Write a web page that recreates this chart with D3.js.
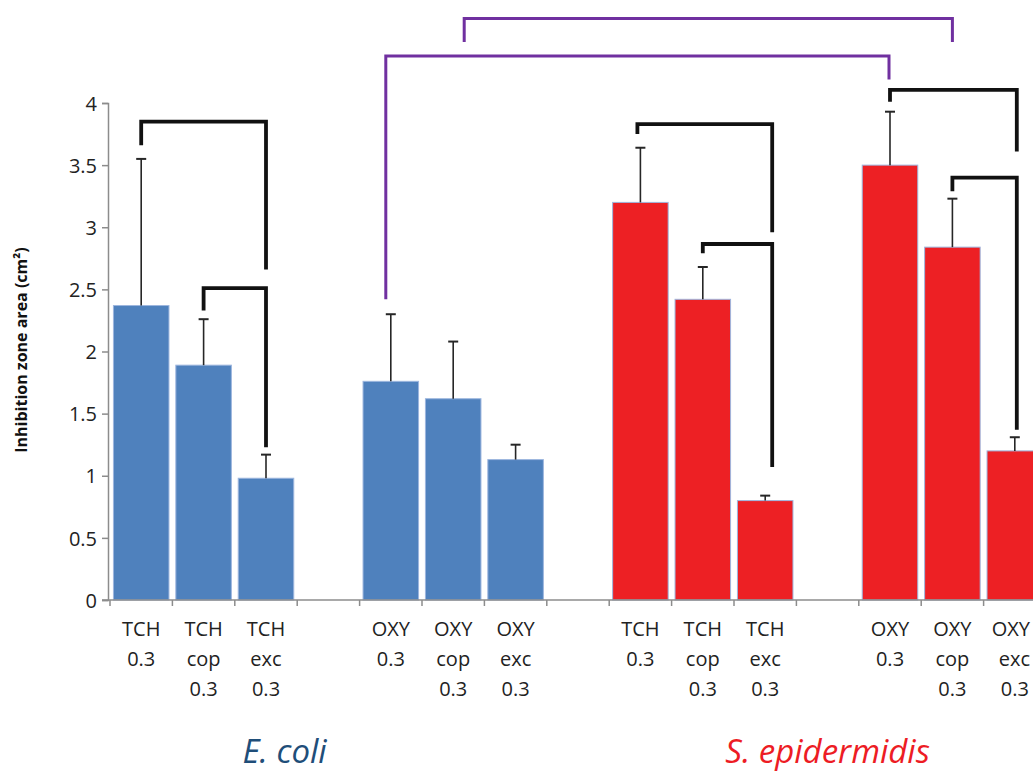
<!DOCTYPE html>
<html>
<head>
<meta charset="utf-8">
<script src="https://cdn.jsdelivr.net/npm/d3@7/dist/d3.min.js"></script>
<style>
  body { margin: 0; background: #fff; }
  svg { display: block; font-family: "Open Sans", sans-serif; }
</style>
</head>
<body>
<div id="chart"></div>
<script>
// bar labels (lines split with |), one per bar
const labels = ["TCH|0.3", "TCH|cop|0.3", "TCH|exc|0.3", "OXY|0.3", "OXY|cop|0.3", "OXY|exc|0.3",
                "TCH|0.3", "TCH|cop|0.3", "TCH|exc|0.3", "OXY|0.3", "OXY|cop|0.3", "OXY|exc|0.3"];
const species = ["E. coli", "E. coli", "E. coli", "E. coli", "E. coli", "E. coli",
                 "S. epidermidis", "S. epidermidis", "S. epidermidis", "S. epidermidis", "S. epidermidis", "S. epidermidis"];
const means = [2.37, 1.89, 0.98, 1.76, 1.62, 1.13, 3.20, 2.42, 0.80, 3.50, 2.84, 1.20];
const errors = [1.18, 0.37, 0.19, 0.54, 0.46, 0.12, 0.44, 0.26, 0.04, 0.43, 0.39, 0.11];
const yTicks = [0, 0.5, 1, 1.5, 2, 2.5, 3, 3.5, 4];

// significance brackets: bar index from/to, bracket top, end of left leg, end of right leg
const bracketFrom = [0, 1, 6, 7, 9, 10, 3, 4];
const bracketTo = [2, 2, 8, 8, 11, 11, 9, 10];
const bracketTop = [3.85, 2.51, 3.83, 2.865, 4.105, 3.40, 4.378, 4.68];
const bracketLeftEnd = [3.66, 2.33, 3.75, 2.79, 4.01, 3.29, 2.42, 4.49];
const bracketRightEnd = [2.66, 1.23, 2.96, 1.07, 3.61, 1.37, 4.19, 4.49];
const bracketKind = ["black", "black", "black", "black", "black", "black", "purple", "purple"];

const w = 1033, h = 774;
const speciesColor = {"E. coli": "#4f81bd", "S. epidermidis": "#ed2024"};
const labelColor = {"E. coli": "#1f4e79", "S. epidermidis": "#ed1c24"};

// bar i sits in slot i + floor(i/3): one empty slot after each trio
const slotOf = i => i + Math.floor(i / 3);
const nSlots = 15;

const svg = d3.select("#chart").append("svg")
    .attr("width", w)
    .attr("height", h);

const x = d3.scaleBand()
    .domain(d3.range(nSlots))
    .range([110, 110 + nSlots * 62.4])
    .paddingInner(0.11)
    .paddingOuter(0.055);

const y = d3.scaleLinear()
    .domain([0, 4])
    .range([600, 103]);

const cx = i => x(slotOf(i)) + x.bandwidth() / 2;

// y axis
const yAxis = svg.append("g")
    .attr("transform", "translate(108,0)")
    .call(d3.axisLeft(y).tickValues(yTicks).tickSize(6).tickPadding(5).tickFormat(d3.format("")));
yAxis.select(".domain").attr("stroke", "#8c8c8c").attr("stroke-width", 1.5);
yAxis.selectAll(".tick line").attr("stroke", "#8c8c8c").attr("stroke-width", 1.5);
yAxis.selectAll(".tick text").attr("font-size", 20).attr("fill", "#222")
    .attr("font-family", "Open Sans, sans-serif").attr("dy", "0.36em");

// y axis title
svg.append("text")
    .attr("transform", "translate(27,350) rotate(-90)")
    .attr("text-anchor", "middle")
    .attr("font-size", 16)
    .attr("font-weight", "bold")
    .attr("fill", "#111")
    .text("Inhibition zone area (cm²)");

// bars
svg.selectAll("rect.bar")
    .data(means)
    .enter()
    .append("rect")
    .attr("class", "bar")
    .attr("x", (d, i) => x(slotOf(i)))
    .attr("y", d => y(d))
    .attr("width", x.bandwidth())
    .attr("height", d => y(0) - y(d))
    .attr("fill", (d, i) => speciesColor[species[i]])
    .attr("stroke", "#9db6de")
    .attr("stroke-width", 1);

// x axis line and slot boundary ticks
svg.append("line")
    .attr("x1", 102).attr("x2", w)
    .attr("y1", y(0)).attr("y2", y(0))
    .attr("stroke", "#8c8c8c").attr("stroke-width", 1.5);
svg.selectAll("line.xtick")
    .data(d3.range(nSlots + 1))
    .enter()
    .append("line")
    .attr("class", "xtick")
    .attr("x1", k => 110 + k * x.step()).attr("x2", k => 110 + k * x.step())
    .attr("y1", y(0)).attr("y2", y(0) + 6)
    .attr("stroke", "#8c8c8c").attr("stroke-width", 1.5);

// bar labels
const lab = svg.selectAll("text.xlab")
    .data(labels)
    .enter()
    .append("text")
    .attr("class", "xlab")
    .attr("text-anchor", "middle")
    .attr("font-size", 20)
    .attr("fill", "#222");
lab.selectAll("tspan")
    .data((d, i) => d.split("|").map(t => ({t: t, i: i})))
    .enter()
    .append("tspan")
    .attr("x", d => cx(d.i))
    .attr("y", (d, k) => 636 + k * 30)
    .text(d => d.t)
    .each(function(d) {
        // keep the last column inside the picture
        const half = this.getComputedTextLength() / 2;
        if (cx(d.i) + half > w - 3) d3.select(this).attr("x", w - 3 - half);
    });

// error bars (upper only)
const err = svg.append("g").attr("stroke", "#262626");
means.forEach((m, i) => {
    err.append("line")
        .attr("x1", cx(i)).attr("x2", cx(i))
        .attr("y1", y(m)).attr("y2", y(m + errors[i]))
        .attr("stroke-width", 1.6);
    err.append("line")
        .attr("x1", cx(i) - 5).attr("x2", cx(i) + 5)
        .attr("y1", y(m + errors[i])).attr("y2", y(m + errors[i]))
        .attr("stroke-width", 2);
});

// significance brackets
const legShiftL = [0, 0, -3, 0, 0, 0, -5, 11];
const legShiftR = [0, 0, 7, 7, 2, 2, -1, 0];
bracketFrom.forEach((a, k) => {
    const x1 = cx(a) + legShiftL[k];
    const x2 = cx(bracketTo[k]) + legShiftR[k];
    const purple = bracketKind[k] === "purple";
    svg.append("path")
        .attr("d", "M" + x1 + "," + y(bracketLeftEnd[k]) +
                   "V" + y(bracketTop[k]) +
                   "H" + x2 +
                   "V" + y(bracketRightEnd[k]))
        .attr("fill", "none")
        .attr("stroke", purple ? "#7030a0" : "#111")
        .attr("stroke-width", purple ? 3 : 3.8);
});

// species labels
svg.append("text")
    .attr("x", x(3) - 16)
    .attr("y", 763)
    .attr("text-anchor", "middle")
    .attr("font-size", 33)
    .attr("font-style", "italic")
    .attr("fill", labelColor["E. coli"])
    .text("E. coli");
svg.append("text")
    .attr("x", x(11) + x.bandwidth() / 2)
    .attr("y", 763)
    .attr("text-anchor", "middle")
    .attr("font-size", 33)
    .attr("font-style", "italic")
    .attr("fill", labelColor["S. epidermidis"])
    .text("S. epidermidis");
</script>
</body>
</html>
